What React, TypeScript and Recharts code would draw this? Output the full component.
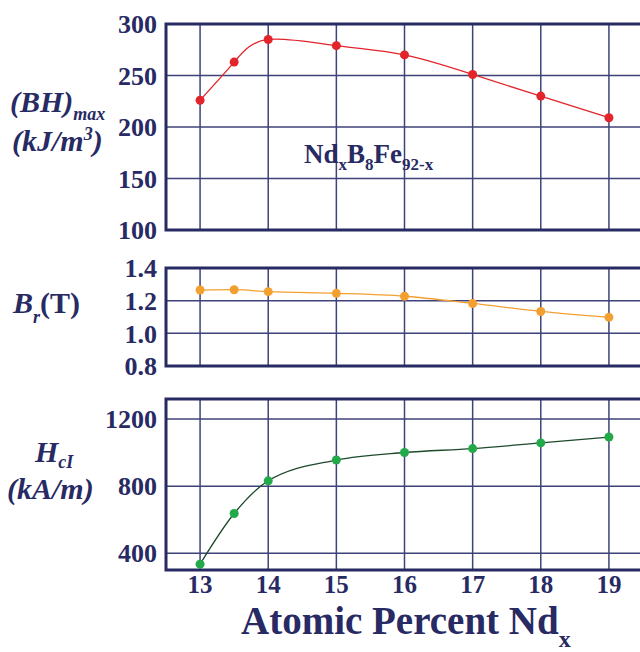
import { LineChart, Line, XAxis, YAxis, CartesianGrid, ReferenceArea } from 'recharts'

// Nd content (atomic %) and the three magnetic properties
const ndPercent = [13, 13.5, 14, 15, 16, 17, 18, 19]
const bhMax = [226, 263, 285, 279, 270, 251, 230, 209]
const remanence = [1.265, 1.267, 1.255, 1.245, 1.227, 1.183, 1.134, 1.098]
const coercivity = [335, 637, 832, 956, 1001, 1024, 1058, 1093]

const xTicks = [13, 14, 15, 16, 17, 18, 19]
const bhTicks = [100, 150, 200, 250, 300]
const brTicks = [0.8, 1.0, 1.2, 1.4]
const hcTicks = [400, 800, 1200]

const rows = ndPercent.map((x, i) => ({ x, bh: bhMax[i], br: remanence[i], hc: coercivity[i] }))

const NAVY = '#272a63'
const GRID = '#3f4279'
const FONT = '"Liberation Serif", "Times New Roman", serif'
const X_DOMAIN: [number, number] = [12.5, 19.5]

const tickStyle = { fontSize: 26, fontWeight: 700, fill: NAVY, fontFamily: FONT }
const xTickStyle = { ...tickStyle, fontSize: 25 }

type PanelProps = {
  top: number
  height: number
  marginTop: number
  marginBottom: number
  dataKey: 'bh' | 'br' | 'hc'
  domain: [number, number]
  ticks: number[]
  dotColor: string
  lineColor: string
  curve: 'natural' | 'monotone'
  showX?: boolean
  fmt?: (v: number) => string
}

function Panel(p: PanelProps) {
  return (
    <div style={{ position: 'absolute', left: 0, top: p.top, width: 640, height: p.height, overflow: 'hidden' }}>
      <LineChart
        width={650}
        height={p.height}
        data={rows}
        margin={{ top: p.marginTop, right: 7, bottom: p.marginBottom, left: 0 }}
      >
        <CartesianGrid stroke={GRID} strokeWidth={1.5} />
        <XAxis
          dataKey="x"
          type="number"
          domain={X_DOMAIN}
          ticks={xTicks}
          interval={0}
          allowDataOverflow
          hide={!p.showX}
          height={30}
          axisLine={false}
          tickLine={false}
          tickSize={0}
          tickMargin={5}
          tick={xTickStyle}
        />
        <YAxis
          type="number"
          domain={p.domain}
          ticks={p.ticks}
          interval={0}
          allowDataOverflow
          width={166}
          axisLine={false}
          tickLine={false}
          tickSize={0}
          tickMargin={9}
          tick={tickStyle}
          tickFormatter={p.fmt}
        />
        <ReferenceArea
          x1={X_DOMAIN[0]}
          x2={X_DOMAIN[1]}
          y1={p.domain[0]}
          y2={p.domain[1]}
          fill="none"
          stroke={NAVY}
          strokeWidth={3}
          ifOverflow="visible"
        />
        <Line
          type={p.curve}
          dataKey={p.dataKey}
          stroke={p.lineColor}
          strokeWidth={1.3}
          dot={{ r: 4.5, fill: p.dotColor, stroke: p.dotColor, strokeWidth: 0 }}
          isAnimationActive={false}
        />
      </LineChart>
    </div>
  )
}

export default function App() {
  return (
    <div style={{ position: 'absolute', left: 0, top: 0, width: 640, height: 652, overflow: 'hidden', background: '#fff' }}>
      <Panel top={0} height={250} marginTop={24} marginBottom={20} dataKey="bh" domain={[100, 300]}
        ticks={bhTicks} dotColor="#e2242b" lineColor="#e2242b" curve="natural" />
      <Panel top={240} height={146} marginTop={28} marginBottom={20} dataKey="br" domain={[0.8, 1.4]}
        ticks={brTicks} dotColor="#f4a031" lineColor="#f4a031" curve="monotone" fmt={(v) => v.toFixed(1)} />
      <Panel top={376} height={276} marginTop={23} marginBottom={52} dataKey="hc" domain={[300, 1320]}
        ticks={hcTicks} dotColor="#22a94a" lineColor="#1d4a2b" curve="monotone" showX />
      <svg width={640} height={652} style={{ position: 'absolute', left: 0, top: 0, pointerEvents: 'none' }}
        fontFamily={FONT} fontWeight={700} fill={NAVY}>
        <text x={10} y={112} fontSize={30} fontStyle="italic">
          (BH)<tspan fontSize={18} dy={8}>max</tspan>
        </text>
        <text x={12} y={151} fontSize={30} fontStyle="italic">
          (kJ/m<tspan fontSize={18} dy={-11}>3</tspan><tspan dy={11}>)</tspan>
        </text>
        <text x={304} y={163} fontSize={27}>
          Nd<tspan fontSize={17} dy={7}>x</tspan><tspan dy={-7}>B</tspan><tspan fontSize={17} dy={7}>8</tspan>
          <tspan dy={-7}>Fe</tspan><tspan fontSize={17} dy={7}>92-x</tspan>
        </text>
        <text x={13} y={313} fontSize={30}>
          <tspan fontStyle="italic">B</tspan><tspan fontSize={18} fontStyle="italic" dy={10}>r</tspan>
          <tspan dy={-10}>(T)</tspan>
        </text>
        <text x={35} y={462} fontSize={30} fontStyle="italic">
          H<tspan fontSize={18} dy={6}>cI</tspan>
        </text>
        <text x={7} y={499} fontSize={30} fontStyle="italic">(kA/m)</text>
        <text x={241} y={634} fontSize={39}>
          Atomic Percent Nd<tspan fontSize={24} dy={13}>x</tspan>
        </text>
      </svg>
    </div>
  )
}
